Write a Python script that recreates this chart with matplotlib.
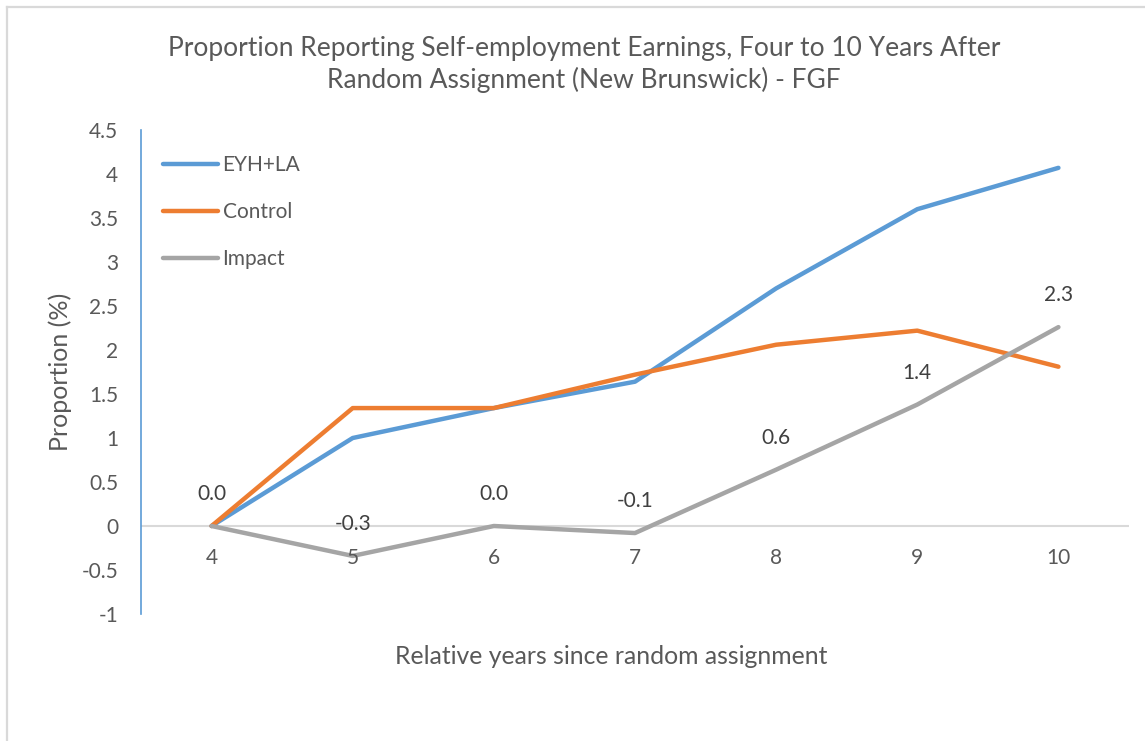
import matplotlib
matplotlib.use("Agg")
import matplotlib.pyplot as plt
from matplotlib.lines import Line2D

# Data: proportion (%) reporting self-employment earnings
years = ["4", "5", "6", "7", "8", "9", "10"]
eyh_la = [0.0, 1.00, 1.34, 1.64, 2.70, 3.60, 4.07]
control = [0.0, 1.34, 1.34, 1.72, 2.06, 2.22, 1.81]
impact = [0.0, -0.34, 0.0, -0.08, 0.64, 1.38, 2.26]
y_ticks = [-1, -0.5, 0, 0.5, 1, 1.5, 2, 2.5, 3, 3.5, 4, 4.5]

BLUE = "#5B9BD5"
ORANGE = "#ED7D31"
GRAY = "#A5A5A5"
TEXT = "#595959"
LABEL = "#404040"
FONT = ["Lato", "DejaVu Sans"]

plt.rcParams["font.family"] = FONT

W, H = 1145, 741
fig = plt.figure(figsize=(W / 100, H / 100), dpi=100)

# light chart-area frame on the left and top
fig.add_artist(Line2D([7 / W, 7 / W], [0, 1 - 7 / H], color="#D9D9D9", lw=1.6,
                      transform=fig.transFigure))
fig.add_artist(Line2D([7 / W, 1], [1 - 7 / H, 1 - 7 / H], color="#D9D9D9", lw=1.6,
                      transform=fig.transFigure))

left, right = 141 / W, 1129 / W
bottom, top = 1 - 614 / H, 1 - 130 / H
ax = fig.add_axes([left, bottom, right - left, top - bottom])

x = list(range(len(years)))
style = dict(lw=3.2, solid_capstyle="round", solid_joinstyle="round", zorder=3)
ax.plot(x, eyh_la, color=BLUE, label="EYH+LA", **style)
ax.plot(x, control, color=ORANGE, label="Control", **style)
ax.plot(x, impact, color=GRAY, label="Impact", **style)

for xi, v in zip(x, impact):
    ax.annotate(f"{v:.1f}", (xi, v), xytext=(0, 23), textcoords="offset points",
                ha="center", va="center", fontsize=15, color=LABEL)

ax.set_xlim(-0.5, len(years) - 0.5)
ax.set_ylim(-1, 4.5)
ax.set_yticks(y_ticks)
ax.set_yticklabels([f"{t:g}" for t in y_ticks])
ax.set_xticks([])

# category labels sit just under the zero line
for xi, lab in zip(x, years):
    ax.annotate(lab, (xi, 0), xytext=(0, -23), textcoords="offset points",
                ha="center", va="center", fontsize=15, color=TEXT)

ax.axhline(0, color="#D9D9D9", lw=1.5, zorder=1)

for side in ["top", "right", "bottom"]:
    ax.spines[side].set_visible(False)
ax.spines["left"].set_color(BLUE)
ax.spines["left"].set_linewidth(1.2)
ax.tick_params(axis="y", length=0, pad=16.5, labelsize=15, labelcolor=TEXT)
ax.patch.set_alpha(0)

leg = ax.legend(loc="upper left", frameon=False,
                fontsize=15, handlelength=2.64, handletextpad=0.2,
                labelspacing=1.3, borderaxespad=0.0, labelcolor=TEXT)
leg.set_bbox_to_anchor((14 / ((right - left) * W), 0.965), transform=ax.transAxes)

fig.text(584 / W, 1 - 64.5 / H,
         "Proportion Reporting Self-employment Earnings, Four to 10 Years After\n"
         "Random Assignment (New Brunswick) - FGF",
         ha="center", va="center", fontsize=19, color=TEXT, linespacing=1.3)

fig.text(611 / W, 1 - 656 / H, "Relative years since random assignment",
         ha="center", va="center", fontsize=17.8, color=TEXT)
fig.text(60 / W, 1 - 372 / H, "Proportion (%)", rotation=90,
         ha="center", va="center", fontsize=18, color=TEXT)

fig.savefig("out.png", dpi=100)
